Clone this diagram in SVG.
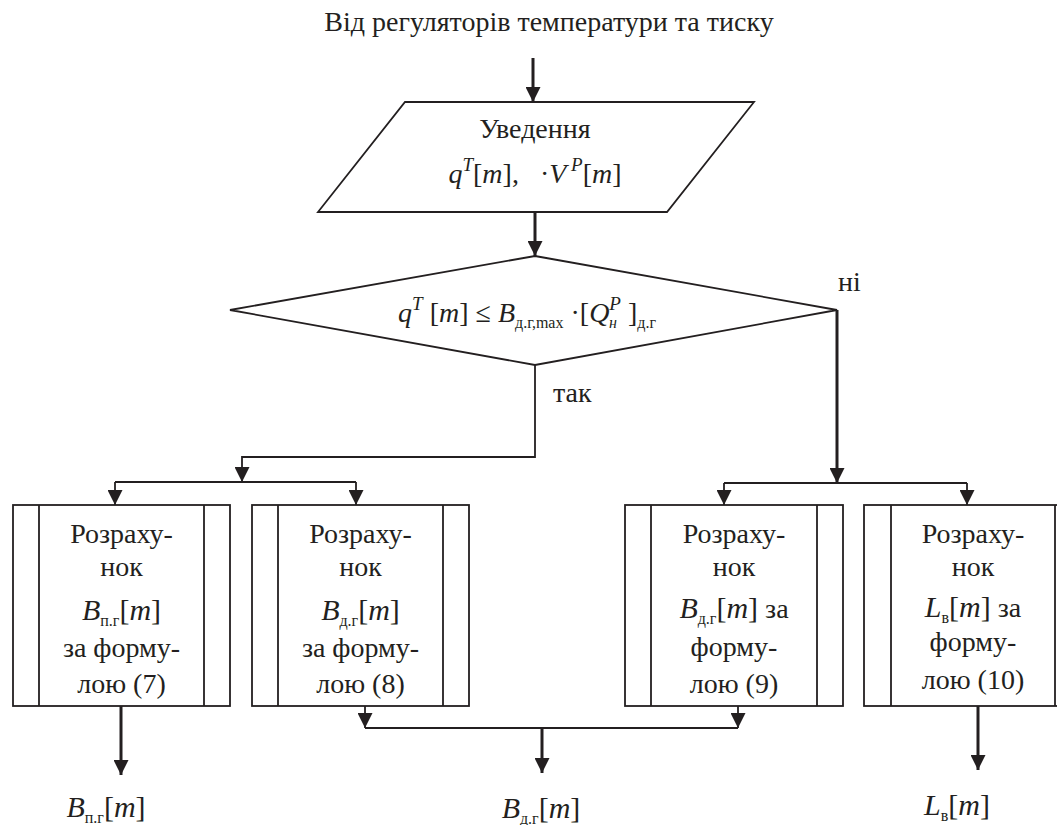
<svg xmlns="http://www.w3.org/2000/svg" width="1057" height="825" viewBox="0 0 1057 825">
<style>
text{font-family:"Liberation Serif","DejaVu Serif","Noto Serif",serif;font-size:28px;fill:#231f20}
.m{font-size:30px}
.i{font-style:italic}
.s{font-size:16px;font-style:normal}
.sp{font-size:19px;font-style:italic}
.sh{fill:#fff;stroke:#231f20;stroke-width:1.8}
.ln{fill:none;stroke:#231f20;stroke-width:1.8}
.lk{fill:none;stroke:#231f20;stroke-width:3}
</style>
<defs>
<marker id="ah" markerUnits="userSpaceOnUse" markerWidth="15" markerHeight="15" refX="15" refY="7.5" orient="auto">
<path d="M0,0 L15,7.5 L0,15 z" fill="#231f20"/>
</marker>
</defs>
<rect width="1057" height="825" fill="#fff"/>

<g id="source">
<text x="549" y="31" text-anchor="middle">Від регуляторів температури та тиску</text>
</g>

<g id="input">
<polygon class="sh" points="405,102 754,102 667,212 318,212"/>
<text x="535" y="138" text-anchor="middle">Уведення</text>
<text x="535" y="183" text-anchor="middle" xml:space="preserve"><tspan class="i">q</tspan><tspan class="sp" dy="-12">T</tspan><tspan dy="12">[</tspan><tspan class="i">m</tspan><tspan>],   ·</tspan><tspan class="i">V</tspan><tspan class="sp" dy="-12"> P</tspan><tspan dy="12">[</tspan><tspan class="i">m</tspan><tspan>]</tspan></text>
</g>

<g id="decision">
<polygon class="sh" points="535,256 837,310 535,365 230,310"/>
<text x="527" y="322" text-anchor="middle"><tspan class="i">q</tspan><tspan class="sp" dy="-12">T</tspan><tspan dy="12"> [</tspan><tspan class="i">m</tspan><tspan>] ≤ </tspan><tspan class="i">B</tspan><tspan class="s" dy="6">д.г,max</tspan><tspan dy="-6"> ·[</tspan><tspan class="i">Q</tspan><tspan class="sp" dy="-12">P</tspan><tspan class="s" dx="-12" dy="18" style="font-style:italic">н</tspan><tspan dx="4" dy="-6"> ]</tspan><tspan class="s" dy="6">д.г</tspan></text>
<text x="838" y="291">ні</text>
<text x="553" y="402">так</text>
</g>

<g id="calc1">
<rect class="sh" x="13" y="505" width="217" height="201"/>
<line class="ln" x1="39" y1="505" x2="39" y2="706"/>
<line class="ln" x1="204" y1="505" x2="204" y2="706"/>
<text x="121.5" y="543" text-anchor="middle">Розраху-</text>
<text x="121.5" y="576" text-anchor="middle">нок</text>
<text class="m" x="121.5" y="620" text-anchor="middle"><tspan class="i">B</tspan><tspan class="s" dy="6">п.г</tspan><tspan dy="-6">[</tspan><tspan class="i">m</tspan><tspan>]</tspan></text>
<text x="121.5" y="657" text-anchor="middle">за форму-</text>
<text x="121.5" y="693" text-anchor="middle">лою (7)</text>
</g>

<g id="calc2">
<rect class="sh" x="252" y="505" width="217" height="201"/>
<line class="ln" x1="278" y1="505" x2="278" y2="706"/>
<line class="ln" x1="443" y1="505" x2="443" y2="706"/>
<text x="360.5" y="543" text-anchor="middle">Розраху-</text>
<text x="360.5" y="576" text-anchor="middle">нок</text>
<text class="m" x="360.5" y="620" text-anchor="middle"><tspan class="i">B</tspan><tspan class="s" dy="6">д.г</tspan><tspan dy="-6">[</tspan><tspan class="i">m</tspan><tspan>]</tspan></text>
<text x="360.5" y="657" text-anchor="middle">за форму-</text>
<text x="360.5" y="693" text-anchor="middle">лою (8)</text>
</g>

<g id="calc3">
<rect class="sh" x="625" y="505" width="218" height="201"/>
<line class="ln" x1="651" y1="505" x2="651" y2="706"/>
<line class="ln" x1="817" y1="505" x2="817" y2="706"/>
<text x="734" y="543" text-anchor="middle">Розраху-</text>
<text x="734" y="576" text-anchor="middle">нок</text>
<text x="734" y="618" text-anchor="middle"><tspan class="i m">B</tspan><tspan class="s" dy="6">д.г</tspan><tspan class="m" dy="-6">[</tspan><tspan class="i m">m</tspan><tspan class="m">]</tspan><tspan> за</tspan></text>
<text x="734" y="656" text-anchor="middle">форму-</text>
<text x="734" y="693" text-anchor="middle">лою (9)</text>
</g>

<g id="calc4">
<rect class="sh" x="864" y="505" width="217" height="201"/>
<line class="ln" x1="891" y1="505" x2="891" y2="706"/>
<line class="ln" x1="1055" y1="505" x2="1055" y2="706"/>
<text x="973" y="543" text-anchor="middle">Розраху-</text>
<text x="973" y="576" text-anchor="middle">нок</text>
<text x="973" y="617" text-anchor="middle"><tspan class="i m">L</tspan><tspan class="s" dy="6">в</tspan><tspan class="m" dy="-6">[</tspan><tspan class="i m">m</tspan><tspan class="m">]</tspan><tspan> за</tspan></text>
<text x="973" y="651" text-anchor="middle">форму-</text>
<text x="973" y="689" text-anchor="middle">лою (10)</text>
</g>

<g id="out1">
<text class="m" x="106" y="817" text-anchor="middle"><tspan class="i">B</tspan><tspan class="s" dy="6">п.г</tspan><tspan dy="-6">[</tspan><tspan class="i">m</tspan><tspan>]</tspan></text>
</g>
<g id="out2">
<text class="m" x="541" y="818" text-anchor="middle"><tspan class="i">B</tspan><tspan class="s" dy="6">д.г</tspan><tspan dy="-6">[</tspan><tspan class="i">m</tspan><tspan>]</tspan></text>
</g>
<g id="out3">
<text class="m" x="957" y="815" text-anchor="middle"><tspan class="i">L</tspan><tspan class="s" dy="6">в</tspan><tspan dy="-6">[</tspan><tspan class="i">m</tspan><tspan>]</tspan></text>
</g>

<g id="connectors">
<path class="lk" d="M533,58 V102" marker-end="url(#ah)"/>
<path class="lk" d="M535,212 V256" marker-end="url(#ah)"/>
<path class="ln" d="M535,365 V457 H242 V482" marker-end="url(#ah)"/>
<path class="ln" d="M115,482 H356"/>
<path class="ln" d="M115,482 V505" marker-end="url(#ah)"/>
<path class="ln" d="M356,482 V505" marker-end="url(#ah)"/>
<path class="lk" d="M837,310 V483" marker-end="url(#ah)"/>
<path class="ln" d="M724,483 H967"/>
<path class="ln" d="M724,483 V505" marker-end="url(#ah)"/>
<path class="ln" d="M967,483 V505" marker-end="url(#ah)"/>
<path class="lk" d="M121,706 V775" marker-end="url(#ah)"/>
<path class="ln" d="M365,706 V728" marker-end="url(#ah)"/>
<path class="ln" d="M738,706 V728" marker-end="url(#ah)"/>
<path class="ln" d="M365,728 H738"/>
<path class="lk" d="M542,728 V773" marker-end="url(#ah)"/>
<path class="lk" d="M978,706 V770" marker-end="url(#ah)"/>
</g>
</svg>
